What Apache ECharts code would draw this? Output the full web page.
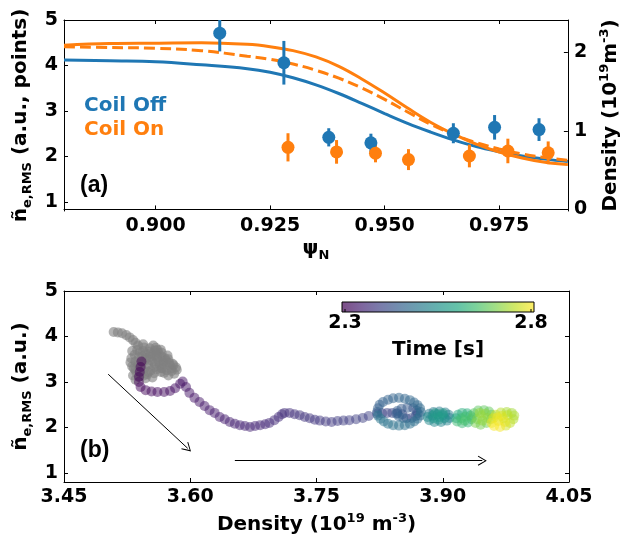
<!DOCTYPE html>
<html><head><meta charset="utf-8">
<script src="https://cdn.jsdelivr.net/npm/echarts@6/dist/echarts.min.js"></script>
<style>html,body{margin:0;padding:0;background:#fff}#c{width:629px;height:540px}</style>
</head><body><div id="c"></div>
<script>
// ---------- Panel (a) data ----------
const psiTicks = [0.900, 0.925, 0.950, 0.975];
const neTicks = [1, 2, 3, 4, 5];
const densTicks = [0, 1, 2];
const offPsi = [0.914, 0.928, 0.9378, 0.947, 0.965, 0.974, 0.9837];
const offNe  = [4.71, 4.06, 2.42, 2.30, 2.51, 2.64, 2.59];
const offErr = [0.40, 0.48, 0.20, 0.20, 0.22, 0.27, 0.25];
const onPsi  = [0.9289, 0.9395, 0.948, 0.9552, 0.9685, 0.9769, 0.9857];
const onNe   = [2.20, 2.10, 2.07, 1.93, 2.01, 2.12, 2.08];
const onErr  = [0.31, 0.26, 0.20, 0.23, 0.25, 0.27, 0.25];
const profPsi    = [0.880, 0.890, 0.900, 0.910, 0.920, 0.925, 0.930, 0.935, 0.940, 0.945, 0.950, 0.955, 0.960, 0.965, 0.970, 0.975, 0.980, 0.985, 0.990];
const densOff    = [1.90, 1.89, 1.88, 1.84, 1.79, 1.745, 1.675, 1.585, 1.475, 1.35, 1.22, 1.095, 0.985, 0.885, 0.80, 0.735, 0.68, 0.64, 0.61];
const densOn     = [2.09, 2.11, 2.115, 2.12, 2.10, 2.07, 2.02, 1.94, 1.82, 1.66, 1.48, 1.29, 1.11, 0.96, 0.83, 0.73, 0.655, 0.60, 0.57];
const densOnDash = [2.07, 2.06, 2.05, 2.02, 1.95, 1.91, 1.85, 1.77, 1.67, 1.545, 1.40, 1.24, 1.085, 0.955, 0.85, 0.77, 0.705, 0.66, 0.625];

// ---------- Panel (b) data ----------
const densTicksB = [3.45, 3.60, 3.75, 3.90, 4.05];
const grayDens = [3.509,3.514,3.519,3.524,3.528,3.532,3.535,3.538,3.545,3.552,3.559,3.565,3.562,3.555,3.547,3.540,3.534,3.530,3.529,3.531,3.535,3.541,3.549,3.557,3.565,3.572,3.578,3.580,3.575,3.568,3.561,3.555,3.550,3.557,3.564,3.570,3.573,3.566,3.548,3.543,3.546,3.553,3.560,3.540,3.547,3.555,3.535,
 3.537,3.544,3.551,3.558,3.566,3.571,3.576,3.583,3.578,3.569,3.538,3.535,3.543,3.552,3.560,3.556,3.544,
 3.531,3.533,3.539,3.546,3.553,3.561,3.568,3.574,3.579,3.584,3.581,3.574,3.566,3.558,3.550,3.542,3.536,3.532,3.560,3.567,3.552,3.545,3.539,3.563];
const grayNe   = [4.10,4.09,4.07,4.03,3.98,3.92,3.86,3.80,3.76,3.74,3.75,3.71,3.64,3.60,3.62,3.66,3.60,3.52,3.43,3.34,3.26,3.20,3.17,3.19,3.22,3.26,3.30,3.37,3.42,3.45,3.50,3.45,3.38,3.32,3.36,3.52,3.58,3.56,3.52,3.44,3.30,3.25,3.28,3.12,3.08,3.10,3.05,
 3.70,3.68,3.67,3.69,3.64,3.47,3.36,3.32,3.24,3.20,3.36,3.45,3.56,3.55,3.60,3.80,3.83,
 3.68,3.30,3.40,3.48,3.62,3.70,3.40,3.50,3.40,3.27,3.18,3.14,3.30,3.40,3.22,3.33,3.20,3.14,3.56,3.30,3.48,3.14,3.54,3.44];

const trajDens = [
 3.542,3.541,3.540,3.539,3.539,3.541,3.547,3.554,3.561,3.569,3.576,3.582,3.588,3.591,3.595,3.599,3.605,3.611,3.617,3.623,3.629,3.635,3.641,3.647,3.653,3.659,3.665,3.671,3.677,3.683,3.689,3.694,3.700,3.705,3.709,3.712,3.718,3.724,3.730,3.736,3.742,3.748,3.754,3.761,3.768,3.775,3.782,3.789,3.797,3.805,3.812,
 3.822,3.828,3.834,3.840,3.846,3.852,3.857,3.863,3.868,3.870,3.869,3.865,3.858,3.851,3.846,3.845,3.848,3.853,
 3.822,3.823,3.825,3.829,3.835,3.841,3.848,3.855,3.861,3.866,3.870,3.873,3.874,3.873,3.870,3.866,3.861,3.855,3.848,3.841,3.835,3.830,3.826,3.823,
 3.884,3.889,3.896,3.903,3.907,3.908,3.905,3.898,3.890,3.884,3.882,3.888,3.894,3.900,3.902,3.895,3.889,3.896,3.891,3.900,
 3.916,3.918,3.923,3.929,3.933,3.934,3.930,3.923,3.917,3.922,3.927,3.926,
 3.935,3.937,3.942,3.949,3.955,3.958,3.957,3.952,3.945,3.939,3.941,3.946,3.951,3.953,3.947,3.944,
 3.982,3.976,3.985,3.984,3.969,3.977,3.980,3.963,3.972,3.975,3.960,3.970,3.966,3.974,3.958,3.965,3.968,3.961];
const trajNe = [
 3.45,3.33,3.22,3.11,3.00,2.89,2.82,2.79,2.78,2.78,2.80,2.86,2.96,3.01,2.89,2.76,2.65,2.56,2.47,2.38,2.32,2.23,2.18,2.12,2.08,2.05,2.03,2.01,2.03,2.05,2.07,2.10,2.16,2.23,2.29,2.32,2.32,2.29,2.27,2.23,2.20,2.17,2.15,2.13,2.12,2.14,2.15,2.16,2.18,2.21,2.25,
 2.30,2.31,2.32,2.32,2.31,2.29,2.20,2.21,2.25,2.31,2.37,2.42,2.43,2.41,2.36,2.30,2.24,2.21,
 2.34,2.42,2.50,2.56,2.61,2.64,2.65,2.63,2.60,2.55,2.49,2.42,2.34,2.26,2.19,2.13,2.08,2.05,2.04,2.05,2.08,2.13,2.19,2.26,
 2.30,2.34,2.35,2.33,2.28,2.21,2.15,2.12,2.12,2.16,2.23,2.26,2.29,2.27,2.20,2.17,2.20,2.23,2.31,2.31,
 2.20,2.28,2.32,2.31,2.26,2.18,2.11,2.09,2.13,2.20,2.24,2.15,
 2.22,2.31,2.37,2.38,2.35,2.28,2.18,2.10,2.06,2.10,2.18,2.26,2.30,2.21,2.15,2.32,
 2.32,2.34,2.26,2.18,2.33,2.27,2.10,2.28,2.20,2.04,2.20,2.25,2.14,2.12,2.10,2.22,2.01,2.03];
const trajTime = [
 2.300,2.302,2.304,2.306,2.308,2.310,2.312,2.314,2.316,2.318,2.320,2.322,2.324,2.326,2.328,2.330,2.332,2.334,2.336,2.338,2.340,2.342,2.344,2.346,2.348,2.350,2.352,2.354,2.356,2.358,2.360,2.362,2.364,2.366,2.368,2.370,2.372,2.374,2.376,2.378,2.380,2.382,2.384,2.386,2.388,2.390,2.392,2.394,2.396,2.398,2.400,
 2.400,2.402,2.404,2.406,2.408,2.410,2.414,2.418,2.422,2.426,2.430,2.434,2.438,2.442,2.446,2.450,2.454,2.458,
 2.450,2.452,2.454,2.456,2.458,2.460,2.462,2.464,2.466,2.468,2.470,2.472,2.474,2.476,2.478,2.480,2.482,2.484,2.486,2.488,2.490,2.492,2.494,2.496,
 2.500,2.504,2.508,2.512,2.516,2.520,2.524,2.528,2.532,2.536,2.540,2.544,2.548,2.552,2.556,2.560,2.564,2.568,2.572,2.576,
 2.600,2.605,2.610,2.615,2.620,2.625,2.630,2.635,2.640,2.645,2.650,2.655,
 2.665,2.669,2.673,2.677,2.681,2.685,2.689,2.693,2.697,2.701,2.705,2.709,2.713,2.717,2.721,2.725,
 2.730,2.734,2.738,2.742,2.746,2.750,2.754,2.758,2.762,2.766,2.770,2.774,2.778,2.782,2.786,2.790,2.794,2.798];
const timeRange = [2.3, 2.8];
const arrows = [[[3.5025, 3.17], [3.597, 1.54]], [[3.653, 1.27], [3.947, 1.27]]];

const viridis = ['#440154','#482475','#414487','#355f8d','#2a788e','#21918c','#22a884','#44bf70','#7ad151','#bddf26','#fde725'];
const BLUE = '#1f77b4', ORANGE = '#ff7f0e';
const FONT = 'DejaVu Sans';

const rich = {
  n: {fontFamily: FONT, fontWeight: 'bold', fontSize: 20, color: '#000', lineHeight: 26, verticalAlign: 'middle'},
  s: {fontFamily: FONT, fontWeight: 'bold', fontSize: 13, color: '#000', lineHeight: 14, verticalAlign: 'bottom'},
  p: {fontFamily: FONT, fontWeight: 'bold', fontSize: 13, color: '#000', lineHeight: 14, verticalAlign: 'top'}
};
const lbl = {fontFamily: FONT, fontWeight: 'bold', fontSize: 19, color: '#000'};
const line = {show: true, lineStyle: {color: '#000', width: 1}};
const tick = (vals) => ({show: true, inside: true, length: 4, lineStyle: {color: '#000', width: 1}, customValues: vals});

function frameX(grid, min, max, vals) {
  return {type: 'value', gridIndex: grid, position: 'top', min, max, axisLine: line,
    axisTick: tick(vals), axisLabel: {show: false}, splitLine: {show: false}};
}
function frameY(grid, min, max, vals) {
  return {type: 'value', gridIndex: grid, position: 'right', min, max, axisLine: line,
    axisTick: tick(vals), axisLabel: {show: false}, splitLine: {show: false}};
}
const zip2 = (a, b) => a.map((v, i) => [v, b[i]]);
const errData = (x, y, e) => x.map((v, i) => [v, y[i] - e[i], y[i] + e[i]]);
const errSeries = (data, color) => ({
  type: 'custom', xAxisIndex: 0, yAxisIndex: 0, data, clip: true, z: 3,
  encode: {x: 0, y: [1, 2]},
  renderItem: (params, api) => {
    const a = api.coord([api.value(0), api.value(1)]);
    const b = api.coord([api.value(0), api.value(2)]);
    return {type: 'line', shape: {x1: a[0], y1: a[1], x2: b[0], y2: b[1]}, style: {stroke: color, lineWidth: 3}};
  }
});

const chart = echarts.init(document.getElementById('c'), null, {renderer: 'canvas'});
const chevron = 'path://M10,0 L20,16 L18.4,17 L10,3.6 L1.6,17 L0,16 Z';
const prof = (name, y, style) => ({name, type: 'line', xAxisIndex: 0, yAxisIndex: 1, data: zip2(profPsi, y),
  smooth: 0.4, showSymbol: false, lineStyle: style, z: 2});

chart.setOption({
  animation: false,
  backgroundColor: '#fff',
  grid: [
    {left: 64, right: 60, top: 20, height: 191},
    {left: 64, right: 60, top: 291, height: 191}
  ],
  legend: {
    left: 74, top: 91, orient: 'vertical', icon: 'none', itemWidth: 0, itemHeight: 20, itemGap: 4,
    selectedMode: false,
    textStyle: {fontFamily: FONT, fontWeight: 'bold', fontSize: 20, lineHeight: 20},
    data: [{name: 'Coil Off', textStyle: {color: BLUE}}, {name: 'Coil On', textStyle: {color: ORANGE}}]
  },
  xAxis: [
    {type: 'value', gridIndex: 0, min: 0.88, max: 0.99, axisLine: line, axisTick: tick(psiTicks),
     axisLabel: Object.assign({customValues: psiTicks, margin: 6, formatter: v => v.toFixed(3)}, lbl),
     splitLine: {show: false},
     name: '{n|ψ}{s|N}', nameLocation: 'middle', nameGap: 25, nameTextStyle: {rich}},
    frameX(0, 0.88, 0.99, psiTicks),
    {type: 'value', gridIndex: 1, min: 3.45, max: 4.05, axisLine: line, axisTick: tick(densTicksB),
     axisLabel: Object.assign({customValues: densTicksB, margin: 6, formatter: v => v.toFixed(2)}, lbl),
     splitLine: {show: false},
     name: '{n|Density (10}{p|19}{n| m}{p|-3}{n|)}', nameLocation: 'middle', nameGap: 30, nameTextStyle: {rich}},
    frameX(1, 3.45, 4.05, densTicksB)
  ],
  yAxis: [
    {type: 'value', gridIndex: 0, min: 0.8, max: 5, axisLine: line, axisTick: tick(neTicks),
     axisLabel: Object.assign({customValues: neTicks, margin: 6}, lbl), splitLine: {show: false},
     name: '{n|ñ}{s|e,RMS}{n| (a.u., points)}', nameLocation: 'middle', nameRotate: 90, nameGap: 16, nameTextStyle: {rich}},
    {type: 'value', gridIndex: 0, position: 'right', min: -0.02, max: 2.41, axisLine: line, axisTick: tick(densTicks),
     axisLabel: Object.assign({customValues: densTicks, margin: 6}, lbl), splitLine: {show: false},
     name: '{n|Density (10}{p|19}{n|m}{p|-3}{n|)}', nameLocation: 'middle', nameRotate: 90, nameGap: 16, nameTextStyle: {rich}},
    {type: 'value', gridIndex: 1, min: 0.8, max: 5, axisLine: line, axisTick: tick(neTicks),
     axisLabel: Object.assign({customValues: neTicks, margin: 6}, lbl), splitLine: {show: false},
     name: '{n|ñ}{s|e,RMS}{n| (a.u.)}', nameLocation: 'middle', nameRotate: 90, nameGap: 16, nameTextStyle: {rich}},
    frameY(1, 0.8, 5, neTicks)
  ],
  visualMap: {type: 'continuous', show: false, seriesIndex: 8, dimension: 2,
    min: timeRange[0], max: timeRange[1], inRange: {color: viridis}},
  series: [
    prof('densOff', densOff, {color: BLUE, width: 3}),
    prof('densOn', densOn, {color: ORANGE, width: 3}),
    prof('densOnDash', densOnDash, {color: ORANGE, width: 3, type: [11, 5]}),
    errSeries(errData(offPsi, offNe, offErr), BLUE),
    errSeries(errData(onPsi, onNe, onErr), ORANGE),
    {name: 'Coil Off', type: 'scatter', xAxisIndex: 0, yAxisIndex: 0, data: zip2(offPsi, offNe), symbolSize: 13,
     itemStyle: {color: BLUE, opacity: 1}, z: 4},
    {name: 'Coil On', type: 'scatter', xAxisIndex: 0, yAxisIndex: 0, data: zip2(onPsi, onNe), symbolSize: 13,
     itemStyle: {color: ORANGE, opacity: 1}, z: 4},
    {name: 'before', type: 'scatter', xAxisIndex: 2, yAxisIndex: 2, data: zip2(grayDens, grayNe), symbolSize: 10,
     itemStyle: {color: '#808080', opacity: 0.6}, z: 2,
     markLine: {silent: true, symbol: ['none', chevron], symbolSize: [10, 9], label: {show: false},
       lineStyle: {color: '#000', width: 1, type: 'solid'},
       data: arrows.map(a => [{coord: a[0]}, {coord: a[1]}])}},
    {name: 'traj', type: 'scatter', xAxisIndex: 2, yAxisIndex: 2,
     data: trajDens.map((v, i) => [v, trajNe[i], trajTime[i]]), symbolSize: 10,
     itemStyle: {opacity: 0.5}, z: 3}
  ],
  graphic: [
    {type: 'text', left: 80, top: 174, style: {text: '(a)', font: 'bold 23px "Liberation Sans"', fill: '#000'}},
    {type: 'text', left: 80, top: 439, style: {text: '(b)', font: 'bold 23px "Liberation Sans"', fill: '#000'}},
    {type: 'rect', shape: {x: 342, y: 302, width: 192, height: 10}, style: {
      fill: new echarts.graphic.LinearGradient(0, 0, 1, 0, viridis.map((c, i) => ({offset: i / (viridis.length - 1), color: c}))),
      opacity: 0.7}},
    {type: 'rect', shape: {x: 342, y: 302, width: 192, height: 10}, style: {fill: 'none', stroke: '#000', lineWidth: 1}},
    {type: 'line', shape: {x1: 345, y1: 312, x2: 345, y2: 309}, style: {stroke: '#000', lineWidth: 1}},
    {type: 'line', shape: {x1: 531, y1: 312, x2: 531, y2: 309}, style: {stroke: '#000', lineWidth: 1}},
    {type: 'text', x: 345, y: 323, style: {text: timeRange[0].toFixed(1), font: 'bold 19px "DejaVu Sans"', fill: '#000', align: 'center', verticalAlign: 'middle'}},
    {type: 'text', x: 531, y: 323, style: {text: timeRange[1].toFixed(1), font: 'bold 19px "DejaVu Sans"', fill: '#000', align: 'center', verticalAlign: 'middle'}},
    {type: 'text', x: 438, y: 350, style: {text: 'Time [s]', font: 'bold 20px "DejaVu Sans"', fill: '#000', align: 'center', verticalAlign: 'middle'}}
  ]
});
</script></body></html>
